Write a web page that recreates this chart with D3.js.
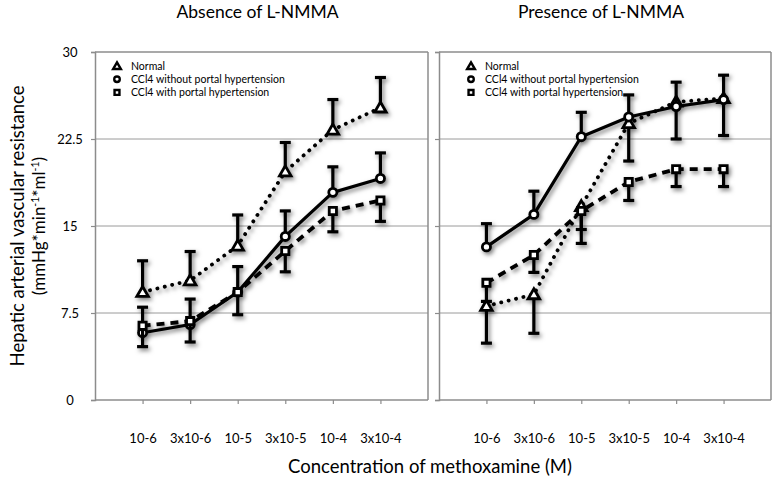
<!DOCTYPE html>
<html>
<head>
<meta charset="utf-8">
<script src="https://cdn.jsdelivr.net/npm/d3@7"></script>
<style>
  html, body { margin: 0; padding: 0; background: #fff; }
  svg { display: block; font-family: Lato, "Open Sans", sans-serif; }
</style>
</head>
<body>
<svg id="chart" width="772" height="481"></svg>
<script>
// ---------- data ----------
const categories = ["10-6", "3x10-6", "10-5", "3x10-5", "10-4", "3x10-4"];
const yTickValues = [0, 7.5, 15, 22.5, 30];
const yTickLabels = ["0", "7.5", "15", "22.5", "30"];
const seriesNames = ["Normal", "CCl4 without portal hypertension", "CCl4 with portal hypertension"];
const panelTitles = ["Absence of L-NMMA", "Presence of L-NMMA"];

// Absence of L-NMMA
const absNormal      = [9.3, 10.3, 13.3, 19.7, 23.3, 25.2];
const absNormalErr   = [2.7, 2.5, 2.65, 2.5, 2.6, 2.6];
const absWithout     = [5.8, 6.5, 9.3, 14.1, 17.9, 19.1];
const absWithoutErr  = [2.2, 2.2, 2.2, 2.2, 2.2, 2.2];
const absWith        = [6.4, 6.8, 9.3, 12.85, 16.3, 17.2];
const absWithErr     = [1.8, 1.8, 1.95, 1.8, 1.8, 1.8];

// Presence of L-NMMA
const presNormal     = [8.1, 9.1, 16.7, 23.85, 25.7, 26.0];
const presNormalErr  = [3.2, 3.35, 3.2, 3.25, 3.2, 3.2];
const presWithout    = [13.2, 16.0, 22.7, 24.4, 25.3, 25.9];
const presWithoutErr = [2.0, 2.0, 2.1, 1.9, 2.1, 2.1];
const presWith       = [10.1, 12.5, 16.3, 18.8, 19.9, 19.9];
const presWithErr    = [1.6, 1.5, 1.6, 1.6, 1.5, 1.5];

// ---------- layout ----------
const svg = d3.select("#chart");
const yTop = 52, yBottom = 400;
const panels = [
  { x0: 95, x1: 428, title: panelTitles[0], legendX: 117,
    series: [
      { vals: absNormal, err: absNormalErr, dir: 1, shape: "tri", dash: "0.1 7.5", width: 3.8 },
      { vals: absWithout, err: absWithoutErr, dir: 1, shape: "circ", dash: null, width: 3.2 },
      { vals: absWith, err: absWithErr, dir: -1, shape: "sq", dash: "8 6", width: 3.8 }
    ] },
  { x0: 439, x1: 771, title: panelTitles[1], legendX: 471,
    series: [
      { vals: presNormal, err: presNormalErr, dir: -1, shape: "tri", dash: "0.1 7.5", width: 3.8 },
      { vals: presWithout, err: presWithoutErr, dir: 1, shape: "circ", dash: null, width: 3.2 },
      { vals: presWith, err: presWithErr, dir: -1, shape: "sq", dash: "8 6", width: 3.8 }
    ] }
];

const y = d3.scaleLinear().domain([0, 30]).range([yBottom, yTop]);

// drop shadow filter
const defs = svg.append("defs");
const f = defs.append("filter").attr("id", "shadow")
  .attr("x", "-20%").attr("y", "-20%").attr("width", "140%").attr("height", "140%");
f.append("feDropShadow").attr("dx", 2).attr("dy", 2.5).attr("stdDeviation", 2)
  .attr("flood-color", "#000").attr("flood-opacity", 0.5);

const frameColor = "#8c8c8c";

function markerPath(shape, size) {
  if (shape === "tri") return d3.symbol(d3.symbolTriangle, size * 1.1)();
  if (shape === "circ") return d3.symbol(d3.symbolCircle, size)();
  return d3.symbol(d3.symbolSquare, size)();
}

panels.forEach((p, pi) => {
  const x = d3.scalePoint().domain(categories).range([p.x0, p.x1]).padding(1);
  const g = svg.append("g");

  // gridlines
  g.selectAll("line.grid").data(yTickValues.filter(v => v > 0 && v < 30)).enter()
    .append("line")
    .attr("x1", p.x0).attr("x2", p.x1)
    .attr("y1", d => y(d)).attr("y2", d => y(d))
    .attr("stroke", "#9a9a9a").attr("stroke-width", 1);

  // frame top & right
  g.append("line").attr("x1", p.x0).attr("x2", p.x1).attr("y1", yTop).attr("y2", yTop)
    .attr("stroke", frameColor).attr("stroke-width", 1.5);
  g.append("line").attr("x1", p.x1).attr("x2", p.x1).attr("y1", yTop).attr("y2", yBottom)
    .attr("stroke", frameColor).attr("stroke-width", 1.5);

  // y axis
  const yAxis = d3.axisLeft(y).tickValues(yTickValues)
    .tickFormat((d, i) => pi === 0 ? yTickLabels[i] : "").tickSize(4).tickPadding(18);
  const ya = g.append("g").attr("transform", `translate(${p.x0},0)`).call(yAxis);
  ya.select(".domain").attr("stroke", frameColor).attr("stroke-width", 1.5);
  ya.selectAll(".tick line").attr("stroke", frameColor).attr("stroke-width", 1.2);
  ya.selectAll(".tick text").attr("text-anchor", "middle").attr("x", -(p.x0 - 70))
    .attr("font-size", 13).attr("fill", "#000").attr("font-family", "Lato, sans-serif");

  // x axis
  const xAxis = d3.axisBottom(x).tickSize(4).tickPadding(30).tickSizeOuter(0);
  const xa = g.append("g").attr("transform", `translate(0,${yBottom})`).call(xAxis);
  xa.select(".domain").attr("stroke", frameColor).attr("stroke-width", 1.5)
    .attr("d", `M${p.x0},0H${p.x1}`);
  xa.selectAll(".tick line").attr("stroke", frameColor).attr("stroke-width", 1.2);
  xa.selectAll(".tick text").attr("font-size", 13).attr("fill", "#000")
    .attr("font-family", "Lato, sans-serif");

  // panel title
  svg.append("text").attr("x", (p.x0 + p.x1) / 2 - 4).attr("y", 18)
    .attr("text-anchor", "middle").attr("font-size", 17.5).attr("fill", "#000")
    .text(p.title);

  // series
  const sg = g.append("g").attr("filter", "url(#shadow)");
  p.series.forEach(s => {
    const pts = categories.map((c, i) => ({ c, v: s.vals[i], e: s.err[i] }));
    const line = d3.line().x(d => x(d.c)).y(d => y(d.v));
    sg.append("path").datum(pts).attr("d", line)
      .attr("fill", "none").attr("stroke", "#000").attr("stroke-width", s.width)
      .attr("stroke-linecap", s.dash && s.dash.startsWith("0.1") ? "round" : "butt")
      .attr("stroke-dasharray", s.dash);
    // error bars
    const eb = sg.append("g");
    eb.selectAll("line.v").data(pts).enter().append("line")
      .attr("x1", d => x(d.c)).attr("x2", d => x(d.c))
      .attr("y1", d => y(d.v)).attr("y2", d => y(d.v + s.dir * d.e))
      .attr("stroke", "#000").attr("stroke-width", 3.2);
    eb.selectAll("line.c").data(pts).enter().append("line")
      .attr("x1", d => x(d.c) - 5.5).attr("x2", d => x(d.c) + 5.5)
      .attr("y1", d => y(d.v + s.dir * d.e)).attr("y2", d => y(d.v + s.dir * d.e))
      .attr("stroke", "#000").attr("stroke-width", 3.2);
    // markers
    sg.selectAll(null).data(pts).enter().append("path")
      .attr("d", markerPath(s.shape, 52))
      .attr("transform", d => `translate(${x(d.c)},${y(d.v) + (s.shape === "tri" ? 1 : 0)})`)
      .attr("fill", "#fff").attr("stroke", "#000").attr("stroke-width", 2.8);
  });

  // legend
  const lg = svg.append("g");
  seriesNames.forEach((name, i) => {
    const yy = 66 + i * 13.2;
    const shape = p.series[i].shape;
    lg.append("path").attr("d", markerPath(shape, 24))
      .attr("transform", `translate(${p.legendX},${yy + (shape === "tri" ? 0.8 : 0)})`)
      .attr("fill", "#fff").attr("stroke", "#000").attr("stroke-width", 2.4);
    lg.append("text").attr("x", p.legendX + 14).attr("y", yy + 3.8)
      .attr("font-size", 10.5).attr("fill", "#000").text(name);
  });
});

// axis titles
svg.append("text").attr("x", 430).attr("y", 473).attr("text-anchor", "middle")
  .attr("font-size", 18.5).attr("fill", "#000").text("Concentration of methoxamine (M)");

const yt = svg.append("text").attr("transform", "translate(24,226) rotate(-90)")
  .attr("text-anchor", "middle").attr("font-size", 18.5).attr("fill", "#000");
yt.append("tspan").attr("x", 0).attr("y", 0).text("Hepatic arterial vascular resistance");
const yt2 = svg.append("text").attr("transform", "translate(45,226) rotate(-90)")
  .attr("text-anchor", "middle").attr("font-size", 17).attr("fill", "#000");
yt2.append("tspan").text("(mmHg*min");
yt2.append("tspan").attr("dy", -6).attr("font-size", 10.5).text("-1");
yt2.append("tspan").attr("dy", 6).text("*ml");
yt2.append("tspan").attr("dy", -6).attr("font-size", 10.5).text("-1");
yt2.append("tspan").attr("dy", 6).text(")");
</script>
</body>
</html>
